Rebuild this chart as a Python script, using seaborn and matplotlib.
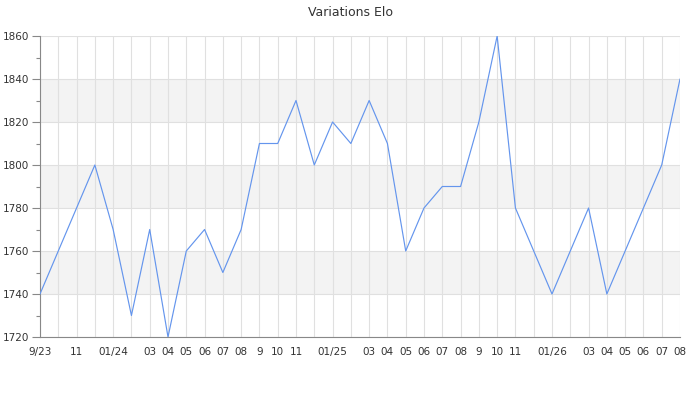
import matplotlib
matplotlib.use("Agg")
import matplotlib.pyplot as plt
import seaborn as sns
import pandas as pd
import numpy as np

months = ["9/23", "", "11", "", "01/24", "", "03", "04", "05", "06", "07", "08",
          "9", "10", "11", "", "01/25", "", "03", "04", "05", "06", "07", "08",
          "9", "10", "11", "", "01/26", "", "03", "04", "05", "06", "07", "08"]
elo = [1740, 1760, 1780, 1800, 1770, 1730, 1770, 1720, 1760, 1770, 1750, 1770,
       1810, 1810, 1830, 1800, 1820, 1810, 1830, 1810, 1760, 1780, 1790, 1790,
       1820, 1860, 1780, 1760, 1740, 1760, 1780, 1740, 1760, 1780, 1800, 1840]
y_ticks = [1720, 1740, 1760, 1780, 1800, 1820, 1840, 1860]
title = "Variations Elo"

sns.set_theme(style="white")
plt.rcParams['font.family'] = ['DejaVu Sans']

df = pd.DataFrame({"pos": np.arange(len(elo)), "elo": elo})

fig = plt.figure(figsize=(7, 4), dpi=100)
ax = fig.add_axes([40/700, 63/400, 640/700, 301/400])

# alternating bands
for i in range(len(y_ticks) - 1):
    if i % 2 == 1:
        ax.axhspan(y_ticks[i], y_ticks[i+1], color="#f3f3f3", zorder=0, lw=0)

sns.lineplot(data=df, x="pos", y="elo", ax=ax, color="#6495ED", linewidth=0.85, zorder=3)

ax.set_xlim(0, len(elo) - 1)
ax.set_ylim(y_ticks[0], y_ticks[-1])
ax.set_xticks(df["pos"])
ax.set_xticklabels(months)
ax.set_yticks(y_ticks)
ax.set_yticks(np.arange(y_ticks[0] + 10, y_ticks[-1], 20), minor=True)

ax.grid(True, which="major", color="#e0e0e0", linewidth=0.8, zorder=1)
ax.set_axisbelow(True)

for s in ["top", "right"]:
    ax.spines[s].set_visible(False)
for s in ["left", "bottom"]:
    ax.spines[s].set_color("#888888")
    ax.spines[s].set_linewidth(0.8)

ax.tick_params(axis="x", length=0, pad=7, labelsize=7.5, colors="#333333")
ax.tick_params(axis="y", which="major", length=6, width=0.8, color="#888888",
               pad=2, labelsize=7.5, labelcolor="#333333", left=True)
ax.tick_params(axis="y", which="minor", length=3, width=0.8, color="#888888", left=True)
ax.set_xlabel("")
ax.set_ylabel("")

fig.text(0.5, 1 - 12/400, title, ha="center", va="center", fontsize=9, color="#333333")

fig.savefig("out.png", dpi=100)
